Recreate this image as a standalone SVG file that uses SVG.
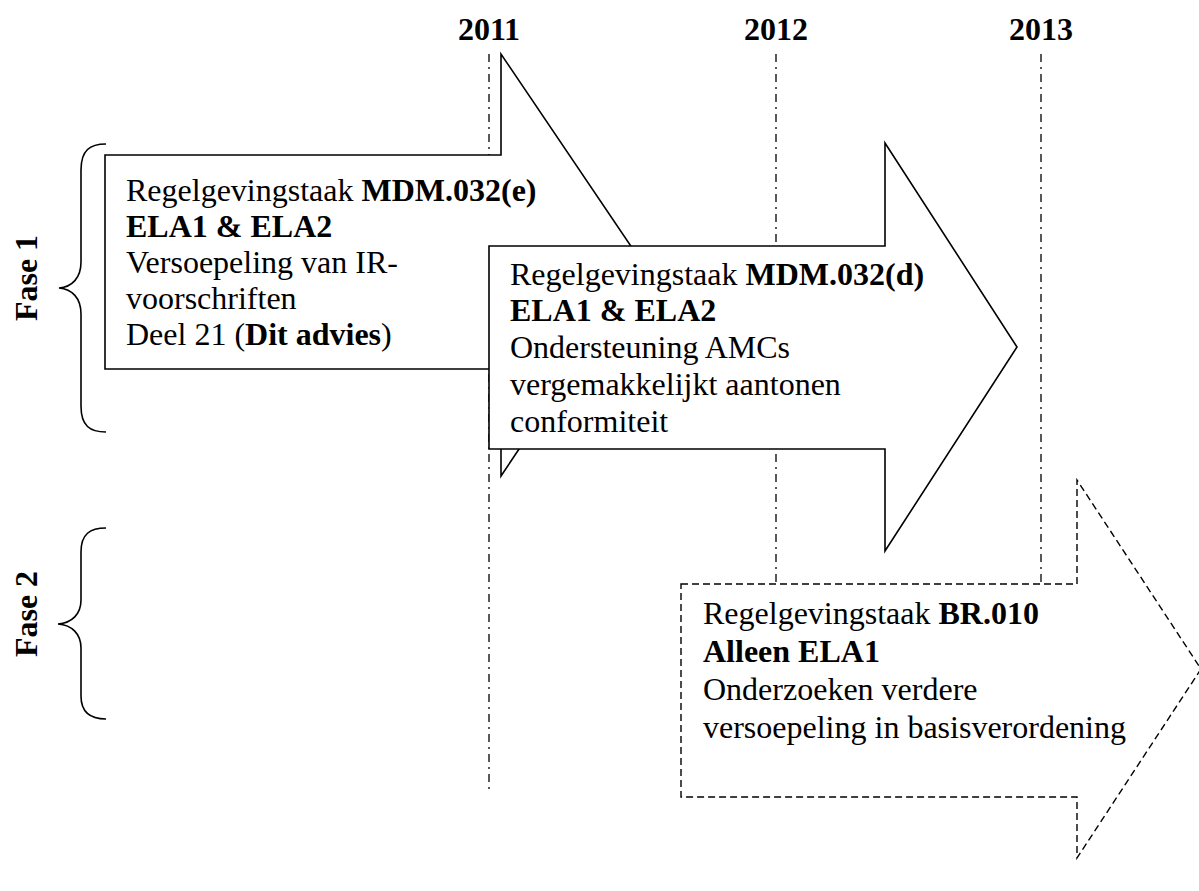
<svg xmlns="http://www.w3.org/2000/svg" width="1199" height="891" viewBox="0 0 1199 891">
<style>
.t{font-family:"Liberation Serif","Times New Roman",serif;font-size:32px;fill:#000}
.b{font-weight:bold}
.yl{fill:none;stroke:#000;stroke-width:1.3;stroke-dasharray:8 5 2 5}
.ar{fill:#fff;stroke:#000;stroke-width:1.6;stroke-linejoin:miter}
.ard{fill:#fff;stroke:#000;stroke-width:1.4;stroke-dasharray:7 4}
.br{fill:none;stroke:#000;stroke-width:1.6}
</style>
<rect width="1199" height="891" fill="#fff"/>
<g id="years">
<text class="t b" x="489" y="40" text-anchor="middle">2011</text>
<text class="t b" x="776" y="40" text-anchor="middle">2012</text>
<text class="t b" x="1041" y="40" text-anchor="middle">2013</text>
</g>
<g id="connectors">
<line class="yl" x1="489" y1="54" x2="489" y2="790"/>
<line class="yl" x1="776" y1="54" x2="776" y2="600"/>
<line class="yl" x1="1041" y1="54" x2="1041" y2="600"/>
</g>
<g id="fase1">
<path class="br" d="M106,144 C90,144 81,150 81,170 L81,262 C81,278 72,287 59,288 C72,289 81,298 81,314 L81,406 C81,426 90,432 106,432"/>
<text class="t b" transform="translate(37,278) rotate(-90)" text-anchor="middle">Fase 1</text>
</g>
<g id="fase2">
<path class="br" d="M106,528 C90,528 81,534 81,552 L81,600 C81,614 72,623 58,624 C72,625 81,634 81,648 L81,696 C81,712 90,719 106,719"/>
<text class="t b" transform="translate(37,614) rotate(-90)" text-anchor="middle">Fase 2</text>
</g>
<g id="arrow1">
<path class="ar" d="M105,155 L501,155 L501,54 L643,264 L501,476 L501,369 L105,369 Z"/>
<text class="t" x="126" y="201">Regelgevingstaak <tspan class="b">MDM.032(e)</tspan></text>
<text class="t b" x="126" y="237">ELA1 &amp; ELA2</text>
<text class="t" x="126" y="273">Versoepeling van IR-</text>
<text class="t" x="126" y="309">voorschriften</text>
<text class="t" x="126" y="345">Deel 21 (<tspan class="b">Dit advies</tspan>)</text>
</g>
<g id="arrow2">
<path class="ar" d="M489,246 L885,246 L885,143 L1017,347 L885,551 L885,449 L489,449 Z"/>
<text class="t" x="510" y="285">Regelgevingstaak <tspan class="b">MDM.032(d)</tspan></text>
<text class="t b" x="510" y="321">ELA1 &amp; ELA2</text>
<text class="t" x="510" y="358">Ondersteuning AMCs</text>
<text class="t" x="510" y="395">vergemakkelijkt aantonen</text>
<text class="t" x="510" y="432">conformiteit</text>
</g>
<g id="arrow3">
<path class="ard" d="M681,584 L1077,584 L1077,480 L1201,669 L1077,858 L1077,797 L681,797 Z"/>
<text class="t" x="703" y="624">Regelgevingstaak <tspan class="b">BR.010</tspan></text>
<text class="t b" x="703" y="662">Alleen ELA1</text>
<text class="t" x="703" y="700">Onderzoeken verdere</text>
<text class="t" x="703" y="738">versoepeling in basisverordening</text>
</g>
</svg>
